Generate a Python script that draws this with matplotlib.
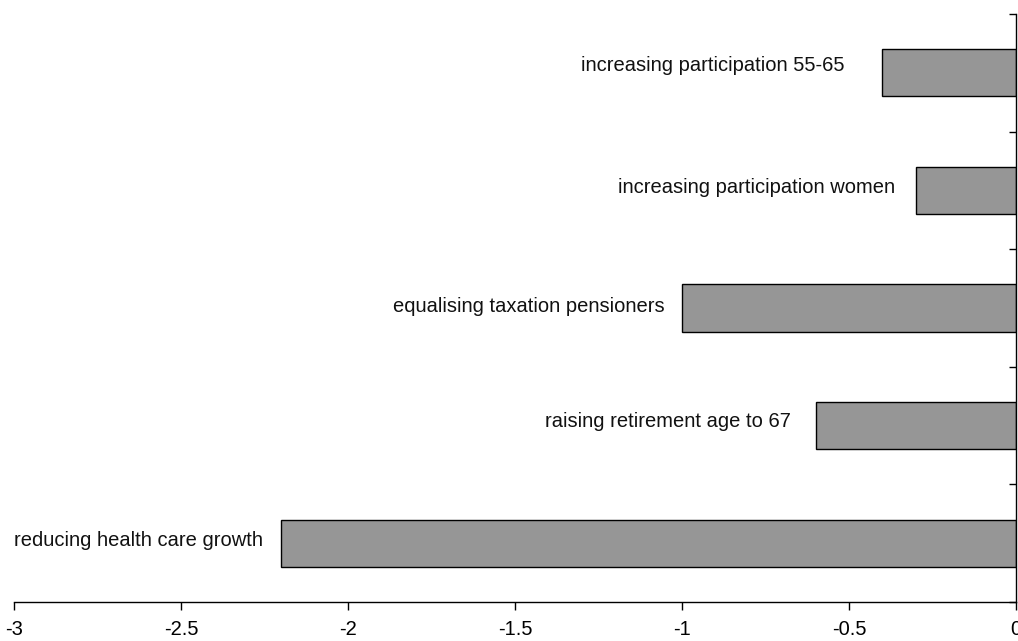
import matplotlib
matplotlib.use("Agg")
import matplotlib.pyplot as plt

categories = [
    "reducing health care growth",
    "raising retirement age to 67",
    "equalising taxation pensioners",
    "increasing participation women",
    "increasing participation 55-65",
]
values = [-2.2, -0.6, -1.0, -0.3, -0.4]
xticks = [-3, -2.5, -2, -1.5, -1, -0.5, 0]
xtick_labels = ["-3", "-2.5", "-2", "-1.5", "-1", "-0.5", "0"]

# label placement (style): gap from bar end in points, vertical shift in points
label_gap = [13, 18, 12.5, 15, 27]
label_dy = [2, 3, 1, 2, 5]

plt.rcParams['font.family'] = ['Liberation Sans', 'DejaVu Sans']

fig = plt.figure(figsize=(10.18, 6.41), dpi=100)
ax = fig.add_axes([14/1018, 39/641, (1016-14)/1018, (602-14)/641])

ypos = list(range(len(categories)))
ax.barh(ypos, values, height=0.4, color="#969696", edgecolor="black", linewidth=1.0, zorder=2)

for y, v, lab, g, dy in zip(ypos, values, categories, label_gap, label_dy):
    ax.annotate(lab, xy=(v, y), xytext=(-g, dy), textcoords="offset points",
                ha="right", va="center", fontsize=14.5, color="#111111")

ax.set_xlim(-3, 0)
ax.set_ylim(-0.5, len(categories) - 0.5)
ax.set_xticks(xticks)
ax.set_xticklabels(xtick_labels, fontsize=14.5)
ax.set_yticks([i - 0.5 for i in range(len(categories) + 1)])
ax.set_yticklabels([])

for s in ["top", "left"]:
    ax.spines[s].set_visible(False)
ax.spines["right"].set_linewidth(1.0)
ax.spines["bottom"].set_linewidth(1.0)
ax.yaxis.set_ticks_position("right")
ax.tick_params(axis="y", direction="in", length=5, width=1.0)
ax.tick_params(axis="x", direction="out", length=6, width=1.0, pad=7)
for lbl in ax.get_xticklabels():
    lbl.set_clip_on(False)

fig.savefig("out.png", dpi=100)
